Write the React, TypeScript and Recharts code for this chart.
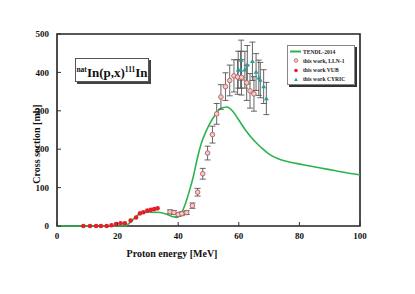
import { ComposedChart, Line, Scatter, ErrorBar, XAxis, YAxis, ReferenceArea } from 'recharts';

// TENDL-2014 evaluation
const tendlEnergy = [0, 10, 20, 22, 23, 24, 25, 26, 27, 28, 30, 32, 34, 36, 38, 39.5, 41, 42, 43, 44, 45, 46, 47, 48, 49, 50, 52, 54, 56, 58, 60, 62, 64, 66, 68, 70, 73, 76, 79, 83, 87, 92, 96, 100];
const tendlXs = [0, 0, 0, 0, 2, 8, 16, 24, 30, 34, 36, 36, 35, 31, 25, 22, 33, 50, 73, 100, 129, 165, 198, 224, 243, 260, 287, 306, 310, 299, 276, 252, 232, 215, 200, 187, 175, 168, 163, 157, 151, 144, 138, 133];

// this work, LLN-1
const llnEnergy = [37.3, 38.6, 40.0, 41.2, 42.8, 44.7, 46.4, 48.1, 49.7, 51.3, 52.7, 54.1, 55.6, 57.0, 58.4, 59.6, 60.9, 62.6, 63.7, 65.0];
const llnXs = [37, 35, 30, 32, 35, 53, 88, 136, 190, 238, 292, 336, 363, 379, 391, 388, 387, 373, 352, 344];
const llnErr = [5, 5, 5, 5, 5, 7, 10, 14, 18, 22, 27, 32, 36, 40, 42, 45, 46, 46, 45, 45];

// this work VUB
const vubEnergy = [8.7, 10.9, 12.9, 14.5, 16.4, 18.0, 19.5, 21.0, 22.4, 24.3, 26.1, 27.4, 28.5, 29.8, 31.0, 32.1, 33.2];
const vubXs = [0, 0, 0, 0, 0, 2, 5, 7, 7, 14, 22, 33, 36, 40, 42, 44, 46];

// this work CYRIC
const cyricEnergy = [59.8, 60.6, 60.8, 62.0, 62.8, 64.5, 65.7, 66.6, 67.1, 68.2, 69.1];
const cyricXs = [407, 407, 432, 407, 420, 429, 401, 386, 380, 363, 332];
const cyricErr = [48, 48, 52, 48, 50, 50, 48, 46, 46, 44, 42];

const xTicks = [0, 20, 40, 60, 80, 100];
const yTicks = [0, 100, 200, 300, 400, 500];

const tendlData = tendlEnergy.map((x, i) => ({ x, y: tendlXs[i] }));
const llnData = llnEnergy.map((x, i) => ({ x, y: llnXs[i], err: llnErr[i] }));
const vubData = vubEnergy.map((x, i) => ({ x, y: vubXs[i] }));
const cyricData = cyricEnergy.map((x, i) => ({ x, y: cyricXs[i], err: cyricErr[i] }));

const serif = '"Liberation Serif", "DejaVu Serif", serif';
const green = '#2bb44e';

const XTick = (props: any) => {
  const { x, y, payload } = props;
  return (
    <g>
      <line x1={x} x2={x} y1={y - 7} y2={y - 11} stroke="#333" />
      <text x={x} y={y} dy="0.71em" textAnchor="middle" fontFamily={serif} fontWeight="bold" fontSize={9} fill="#111">
        {payload.value}
      </text>
    </g>
  );
};

const YTick = (props: any) => {
  const { x, y, payload } = props;
  return (
    <g>
      <line x1={x + 8} x2={x + 12} y1={y} y2={y} stroke="#333" />
      <text x={x} y={y} dy="0.35em" textAnchor="end" fontFamily={serif} fontWeight="bold" fontSize={9} fill="#111">
        {payload.value}
      </text>
    </g>
  );
};

const OpenCircle = (props: any) => (
  <circle cx={props.cx} cy={props.cy} r={2.3} fill="#efcccc" stroke="#b85a58" strokeWidth={0.9} />
);
const RedDot = (props: any) => <circle cx={props.cx} cy={props.cy} r={2.3} fill="#e3202a" />;
const Triangle = (props: any) => {
  const { cx, cy } = props;
  return <path d={`M${cx},${cy - 2.6}L${cx + 2.4},${cy + 1.7}L${cx - 2.4},${cy + 1.7}Z`} fill="#2a9d9a" />;
};

export default function App() {
  return (
    <div style={{ position: 'absolute', left: 0, top: 0, width: 415, height: 294, background: '#fff' }}>
      <ComposedChart width={415} height={294} margin={{ top: 34, right: 55, bottom: 48, left: 27 }}>
        <XAxis
          dataKey="x"
          type="number"
          domain={[0, 100]}
          ticks={xTicks}
          axisLine={false}
          tickLine={false}
          tickSize={0}
          tickMargin={7}
          height={20}
          tick={<XTick />}
          allowDuplicatedCategory={false}
        />
        <YAxis
          type="number"
          domain={[0, 500]}
          ticks={yTicks}
          axisLine={false}
          tickLine={false}
          tickSize={0}
          tickMargin={8}
          width={30}
          tick={<YTick />}
        />
        <Line data={tendlData} dataKey="y" type="monotone" stroke={green} strokeWidth={1.6} dot={false} isAnimationActive={false} />
        <Scatter data={vubData} dataKey="y" shape={<RedDot />} isAnimationActive={false} />
        <Scatter data={llnData} dataKey="y" shape={<OpenCircle />} isAnimationActive={false}>
          <ErrorBar dataKey="err" direction="y" width={3} stroke="#555" strokeWidth={0.9} />
        </Scatter>
        <Scatter data={cyricData} dataKey="y" shape={<Triangle />} isAnimationActive={false}>
          <ErrorBar dataKey="err" direction="y" width={3} stroke="#555" strokeWidth={0.9} />
        </Scatter>
        <ReferenceArea x1={0} x2={100} y1={0} y2={500} fill="none" stroke="#222" strokeWidth={1.6} ifOverflow="visible" />
      </ComposedChart>

      <div
        style={{
          position: 'absolute',
          left: 36,
          top: 144,
          transform: 'translate(-50%, -50%) rotate(-90deg)',
          whiteSpace: 'nowrap',
          fontFamily: serif,
          fontWeight: 'bold',
          fontSize: 10,
          color: '#111',
        }}
      >
        Cross section [mb]
      </div>

      <div
        style={{
          position: 'absolute',
          left: 172,
          top: 253,
          transform: 'translate(-50%, -50%)',
          whiteSpace: 'nowrap',
          fontFamily: serif,
          fontWeight: 'bold',
          fontSize: 10,
          color: '#111',
        }}
      >
        Proton energy [MeV]
      </div>

      <div
        style={{
          position: 'absolute',
          left: 75,
          top: 58,
          width: 72,
          height: 22,
          background: '#fff',
          border: '1px solid #555',
          boxShadow: '2px 2px 0 #444',
          fontFamily: serif,
          fontWeight: 'bold',
          fontSize: 13,
          color: '#111',
          lineHeight: '22px',
          textAlign: 'center',
          whiteSpace: 'nowrap',
        }}
      >
        <sup style={{ fontSize: 7.5 }}>nat</sup>In(p,x)<sup style={{ fontSize: 7.5 }}>111</sup>In
      </div>

      <div
        style={{
          position: 'absolute',
          left: 287,
          top: 45,
          width: 66,
          height: 38,
          background: '#fff',
          border: '1px solid #888',
          boxShadow: '2px 2px 0 #333',
          fontFamily: serif,
          fontWeight: 'bold',
          fontSize: 5.6,
          color: '#222',
        }}
      >
        {[
          { label: 'TENDL-2014', kind: 'line' },
          { label: 'this work, LLN-1', kind: 'open' },
          { label: 'this work VUB', kind: 'red' },
          { label: 'this work CYRIC', kind: 'tri' },
        ].map((item, i) => (
          <div key={item.label} style={{ position: 'absolute', left: 0, top: 1 + i * 9.3, height: 9, display: 'flex', alignItems: 'center', whiteSpace: 'nowrap' }}>
            <svg width={12} height={9} style={{ marginLeft: 2 }}>
              {item.kind === 'line' && <line x1={0} x2={11} y1={4.5} y2={4.5} stroke={green} strokeWidth={2} />}
              {item.kind === 'open' && <circle cx={6} cy={4.5} r={1.8} fill="#efcccc" stroke="#b85a58" strokeWidth={0.8} />}
              {item.kind === 'red' && <circle cx={6} cy={4.5} r={1.8} fill="#e3202a" />}
              {item.kind === 'tri' && <path d="M6,2.4L7.8,6L4.2,6Z" fill="#2a9d9a" />}
            </svg>
            <span style={{ marginLeft: 1 }}>{item.label}</span>
          </div>
        ))}
      </div>
    </div>
  );
}
